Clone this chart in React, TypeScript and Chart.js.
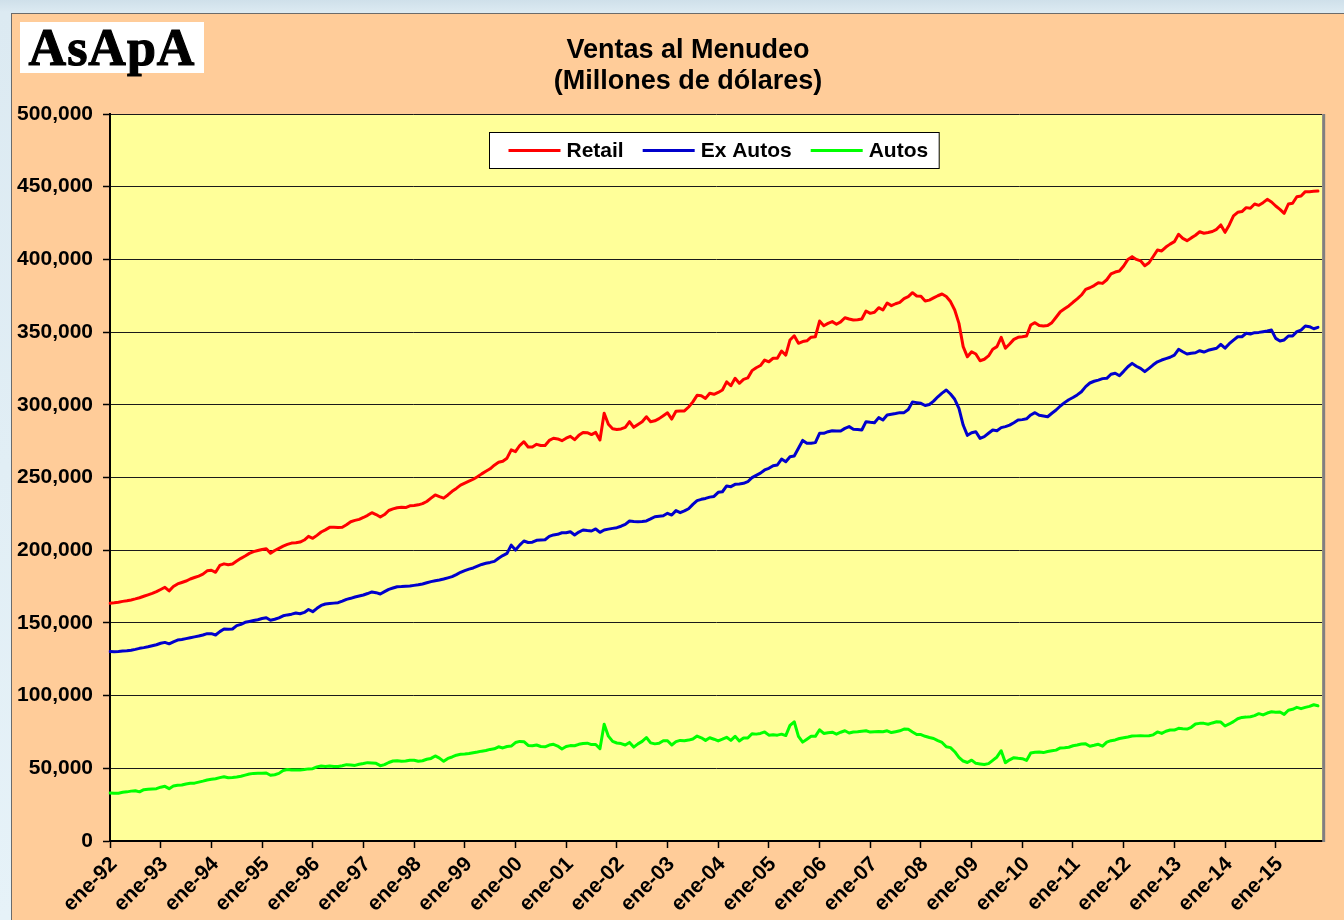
import React, { useEffect, useRef } from 'react';
import { Chart, registerables } from 'chart.js';

Chart.register(...registerables);

const MONTHS = ['ene', 'feb', 'mar', 'abr', 'may', 'jun', 'jul', 'ago', 'sep', 'oct', 'nov', 'dic'];
const YEARS = ['92', '93', '94', '95', '96', '97', '98', '99', '00', '01', '02', '03', '04', '05', '06', '07', '08', '09', '10', '11', '12', '13', '14', '15'];
const CATEGORIES = YEARS.flatMap((y) => MONTHS.map((m) => `${m}-${y}`));
const Y_TICKS = [0, 50000, 100000, 150000, 200000, 250000, 300000, 350000, 400000, 450000, 500000];

// Values in thousands of millions of dollars (one row per year, Jan..Dec)
const RETAIL = [
  [163.5, 163.8, 164.2, 164.8, 165.2, 165.8, 166.5, 167.3, 168.3, 169.3, 170.3, 171.5],
  [173.0, 174.5, 172.0, 175.0, 176.8, 177.8, 178.8, 180.2, 181.2, 182.2, 183.5, 185.8],
  [186.2, 184.8, 189.5, 190.6, 190.0, 190.5, 192.5, 194.4, 196.0, 197.8, 199.0, 199.8],
  [200.5, 201.0, 198.0, 199.8, 201.3, 202.8, 204.0, 204.9, 205.2, 205.6, 207.0, 209.5],
  [208.2, 210.2, 212.5, 214.0, 215.7, 215.8, 215.6, 215.8, 217.5, 219.6, 220.5, 221.2],
  [222.5, 224.0, 225.8, 224.5, 222.8, 224.5, 227.3, 228.4, 229.2, 229.6, 229.3, 230.5],
  [230.8, 231.2, 232.0, 233.5, 235.8, 238.0, 236.8, 235.8, 238.0, 240.5, 242.5, 244.8],
  [246.2, 247.5, 248.8, 250.5, 252.5, 254.3, 256.0, 258.5, 260.5, 261.2, 263.3, 269.0],
  [267.8, 272.0, 274.6, 271.0, 271.0, 272.8, 272.0, 272.0, 275.5, 277.0, 276.5, 275.3],
  [277.0, 278.3, 276.0, 279.0, 281.0, 280.8, 279.5, 281.0, 275.8, 294.2, 286.6, 283.5],
  [283.0, 283.4, 284.5, 288.4, 284.5, 286.5, 288.4, 291.8, 288.4, 289.0, 290.5, 292.5],
  [294.5, 290.2, 295.5, 295.7, 295.8, 298.5, 302.0, 306.5, 306.3, 304.4, 307.9, 307.2],
  [308.5, 310.2, 315.8, 313.1, 318.2, 314.8, 317.5, 318.5, 323.5, 325.5, 327.0, 330.8],
  [329.6, 332.0, 332.0, 337.0, 334.2, 344.6, 347.5, 342.3, 343.5, 344.0, 346.5, 346.8],
  [357.6, 354.4, 356.0, 357.2, 355.4, 357.0, 359.9, 359.0, 358.3, 358.5, 359.0, 364.5],
  [362.9, 363.6, 366.8, 365.2, 370.0, 368.2, 369.5, 370.4, 373.0, 374.4, 377.1, 374.8],
  [374.6, 371.4, 372.0, 373.5, 375.0, 376.2, 374.5, 371.0, 365.2, 356.0, 340.0, 333.0],
  [336.5, 334.9, 330.3, 331.3, 333.6, 338.2, 340.0, 346.4, 338.9, 341.8, 345.0, 346.4],
  [346.8, 347.3, 354.9, 356.5, 354.5, 354.2, 354.5, 356.5, 360.2, 364.0, 366.0, 368.0],
  [370.5, 372.8, 375.5, 379.4, 380.5, 382.0, 384.0, 383.5, 386.0, 390.0, 391.3, 392.0],
  [395.5, 400.0, 401.9, 400.0, 399.0, 395.7, 397.7, 402.0, 406.5, 405.8, 408.5, 410.5],
  [412.2, 417.3, 414.5, 412.9, 414.8, 416.6, 419.0, 418.0, 418.5, 419.2, 420.7, 423.7],
  [418.6, 423.7, 429.9, 432.4, 432.9, 435.6, 435.2, 438.1, 437.2, 439.0, 441.3, 439.5],
  [436.7, 434.4, 431.7, 438.1, 438.6, 443.1, 443.6, 446.6, 446.6, 446.8, 447.0],
];

const EX_AUTOS = [
  [130.3, 130.2, 130.3, 130.6, 130.8, 131.2, 131.8, 132.5, 133.0, 133.6, 134.3, 135.0],
  [136.0, 136.6, 135.6, 137.0, 138.2, 138.6, 139.2, 139.8, 140.4, 141.0, 141.7, 142.6],
  [142.6, 141.7, 144.0, 145.8, 145.6, 145.8, 148.1, 149.0, 150.4, 151.0, 151.6, 152.2],
  [153.0, 153.5, 151.8, 152.5, 153.5, 154.9, 155.5, 156.0, 156.8, 156.3, 157.2, 159.2],
  [157.7, 160.0, 162.0, 163.0, 163.3, 163.6, 163.9, 165.0, 166.2, 166.9, 167.8, 168.5],
  [169.2, 170.2, 171.3, 170.8, 169.9, 171.5, 173.1, 174.0, 174.9, 175.0, 175.2, 175.4],
  [175.8, 176.2, 176.8, 177.6, 178.4, 179.0, 179.5, 180.2, 181.0, 181.8, 183.2, 184.8],
  [186.0, 187.0, 187.8, 189.0, 190.2, 191.0, 191.6, 192.3, 194.5, 196.3, 197.8, 203.5],
  [200.1, 203.5, 206.3, 205.3, 205.5, 206.8, 207.0, 207.2, 209.5, 210.5, 210.9, 212.0],
  [212.0, 212.7, 210.5, 212.5, 213.9, 213.5, 213.2, 214.6, 212.3, 213.9, 214.5, 215.0],
  [215.5, 216.5, 217.8, 220.1, 219.8, 219.6, 219.8, 220.1, 221.5, 223.0, 223.4, 223.7],
  [225.4, 224.2, 227.2, 225.8, 227.0, 228.5, 231.5, 234.1, 235.0, 235.6, 236.5, 237.0],
  [239.8, 240.2, 244.2, 243.7, 245.3, 245.6, 246.0, 247.1, 249.9, 251.5, 253.0, 255.2],
  [256.3, 258.1, 258.6, 262.7, 260.9, 264.3, 264.8, 270.1, 275.5, 273.5, 273.5, 274.0],
  [280.4, 280.4, 281.5, 282.2, 282.0, 282.0, 283.8, 285.0, 283.2, 283.0, 282.7, 288.4],
  [288.0, 287.7, 291.2, 289.5, 293.0, 293.5, 294.0, 294.6, 294.6, 296.8, 302.0, 301.5],
  [301.0, 299.5, 300.2, 302.5, 305.5, 308.0, 310.2, 307.4, 303.8, 297.6, 286.1, 279.0],
  [280.8, 281.5, 276.9, 278.1, 280.4, 282.7, 282.2, 284.3, 285.0, 286.0, 287.7, 289.5],
  [289.8, 290.4, 293.0, 294.6, 292.8, 292.3, 291.8, 294.2, 296.4, 299.2, 301.5, 303.5],
  [305.0, 306.8, 309.0, 312.5, 315.0, 316.2, 317.0, 318.0, 318.2, 321.0, 321.7, 320.0],
  [323.0, 326.2, 328.5, 326.5, 325.1, 322.8, 325.1, 327.5, 329.6, 330.8, 331.8, 332.7],
  [334.2, 338.2, 336.5, 334.9, 335.5, 335.8, 337.2, 336.3, 337.5, 338.2, 338.9, 341.6],
  [339.0, 342.0, 344.5, 346.8, 346.8, 349.2, 348.7, 349.6, 349.8, 350.3, 350.8, 351.4],
  [345.7, 343.9, 344.6, 347.3, 347.3, 350.3, 351.4, 354.2, 353.7, 352.3, 353.3],
];

const AUTOS = [
  [33.0, 32.8, 32.9, 33.5, 33.8, 34.3, 34.6, 33.8, 35.3, 35.6, 35.8, 36.0],
  [37.0, 37.6, 36.0, 37.8, 38.4, 38.5, 39.2, 39.7, 39.8, 40.5, 41.2, 42.0],
  [42.4, 42.8, 43.6, 44.2, 43.5, 43.6, 44.0, 44.5, 45.3, 46.1, 46.5, 46.6],
  [46.6, 46.8, 45.2, 45.6, 46.5, 48.5, 49.2, 48.8, 48.8, 48.9, 49.2, 49.6],
  [49.7, 51.0, 51.6, 51.2, 51.6, 51.2, 51.3, 51.8, 52.5, 52.3, 52.0, 52.8],
  [53.3, 53.9, 53.7, 53.4, 51.8, 52.5, 54.0, 55.0, 55.2, 54.8, 55.0, 55.6],
  [55.5, 54.8, 55.2, 56.2, 56.8, 58.5, 57.0, 54.8, 56.8, 57.8, 59.0, 59.6],
  [59.8, 60.2, 60.7, 61.2, 61.8, 62.2, 63.0, 63.4, 64.8, 64.0, 65.0, 65.3],
  [67.7, 68.5, 68.3, 65.7, 65.5, 66.0, 65.0, 64.8, 66.0, 66.5, 65.3, 63.3],
  [65.0, 65.6, 65.5, 66.5, 67.1, 67.3, 66.3, 66.4, 63.5, 80.3, 72.1, 68.5],
  [67.4, 67.0, 66.0, 67.8, 64.6, 66.8, 68.5, 71.2, 67.5, 66.8, 67.2, 69.0],
  [69.0, 66.0, 68.3, 69.2, 69.0, 69.4, 70.2, 72.2, 71.0, 69.2, 71.0, 70.0],
  [68.8, 70.0, 71.3, 69.2, 72.0, 68.8, 70.8, 70.8, 73.8, 73.5, 74.0, 75.0],
  [72.8, 73.0, 72.8, 73.5, 72.5, 79.5, 82.0, 72.0, 68.0, 70.0, 72.0, 72.0],
  [76.5, 74.0, 74.5, 74.8, 73.5, 74.8, 75.8, 74.3, 75.0, 75.2, 75.5, 75.8],
  [74.9, 75.2, 75.3, 75.2, 75.8, 74.6, 75.2, 75.8, 77.0, 76.8, 75.0, 73.3],
  [73.2, 72.0, 71.2, 70.5, 69.0, 67.8, 64.8, 64.2, 61.4, 57.5, 55.0, 54.0],
  [55.6, 53.4, 53.0, 52.6, 53.2, 55.5, 57.8, 62.1, 53.9, 55.8, 57.3, 56.9],
  [56.6, 55.4, 60.5, 61.0, 61.2, 60.8, 61.5, 62.0, 62.5, 64.0, 64.2, 64.5],
  [65.5, 66.0, 66.7, 66.8, 65.2, 65.8, 66.5, 65.2, 68.0, 69.0, 69.5, 70.5],
  [71.0, 71.5, 72.2, 72.3, 72.4, 72.3, 72.4, 73.0, 75.0, 74.0, 75.5, 76.3],
  [76.3, 77.5, 77.2, 77.0, 78.2, 80.5, 80.9, 80.9, 80.3, 81.2, 82.0, 81.8],
  [79.1, 80.5, 82.1, 84.1, 85.0, 85.2, 85.5, 86.2, 87.6, 86.7, 88.0, 88.9],
  [88.5, 88.7, 87.1, 89.9, 90.6, 91.9, 91.0, 91.9, 92.6, 93.7, 93.0],
];

const SERIES_LABELS = ['Retail', 'Ex Autos', 'Autos'];
const SERIES_COLORS = ['#FF0000', '#0000CC', '#00FF00'];
const TITLE_LINES = ['Ventas al Menudeo', '(Millones de dólares)'];

const FONT_FAMILY = "'Liberation Sans', Arial, Helvetica, sans-serif";

const W = 1344;
const H = 920;
const PLOT_LEFT = 110;
const PLOT_TOP = 114;
const PLOT_RIGHT = 1325;
const PLOT_BOTTOM = 841;

const decorPlugin = {
  id: 'decor',
  beforeDraw(chart: any) {
    const { ctx, chartArea } = chart;
    ctx.save();
    ctx.fillStyle = '#FFFF99';
    ctx.fillRect(chartArea.left, chartArea.top, chartArea.right - chartArea.left, chartArea.bottom - chartArea.top);
    ctx.restore();
  },
  afterDraw(chart: any) {
    const { ctx, chartArea } = chart;
    ctx.save();
    // right border of plot
    ctx.strokeStyle = '#808080';
    ctx.lineWidth = 3;
    ctx.beginPath();
    ctx.moveTo(chartArea.right + 1.5, chartArea.top);
    ctx.lineTo(chartArea.right + 1.5, chartArea.bottom + 1);
    ctx.stroke();

    // title
    ctx.fillStyle = '#000';
    ctx.font = `bold 27px ${FONT_FAMILY}`;
    ctx.textAlign = 'center';
    ctx.textBaseline = 'middle';
    ctx.fillText(TITLE_LINES[0], 688, 51);
    ctx.fillText(TITLE_LINES[1], 688, 82);

    // legend
    const datasets = chart.data.datasets;
    ctx.font = `bold 21px ${FONT_FAMILY}`;
    const lineLen = 52;
    const gapLT = 6;
    const gapItems = 19;
    const padL = 19;
    const padR = 11;
    const widths = datasets.map((d: any) => ctx.measureText(d.label).width);
    let total = padL + padR;
    widths.forEach((w: number, i: number) => {
      total += lineLen + gapLT + w + (i < widths.length - 1 ? gapItems : 0);
    });
    const boxTop = 132;
    const boxH = 36;
    const cx = (chartArea.left + chartArea.right) / 2 - 2;
    const boxLeft = Math.round(cx - total / 2) + 0.5;
    ctx.fillStyle = '#FFFFFF';
    ctx.fillRect(boxLeft, boxTop + 0.5, total, boxH);
    ctx.strokeStyle = '#000';
    ctx.lineWidth = 1;
    ctx.strokeRect(boxLeft, boxTop + 0.5, total, boxH);
    let x = boxLeft + padL;
    const yMid = boxTop + boxH / 2 + 0.5;
    datasets.forEach((d: any, i: number) => {
      ctx.strokeStyle = d.borderColor;
      ctx.lineWidth = 3;
      ctx.beginPath();
      ctx.moveTo(x, yMid);
      ctx.lineTo(x + lineLen, yMid);
      ctx.stroke();
      x += lineLen + gapLT;
      ctx.fillStyle = '#000';
      ctx.textAlign = 'left';
      ctx.textBaseline = 'middle';
      ctx.fillText(d.label, x, yMid + 1);
      x += widths[i] + gapItems;
    });
    ctx.restore();
  },
};

export default function App() {
  const canvasRef = useRef<HTMLCanvasElement | null>(null);

  useEffect(() => {
    const canvas = canvasRef.current;
    if (!canvas) return;
    const series = [RETAIL, EX_AUTOS, AUTOS];
    const chart = new Chart(canvas, {
      type: 'line',
      data: {
        labels: CATEGORIES,
        datasets: series.map((rows, i) => ({
          label: SERIES_LABELS[i],
          data: rows.flat().map((v) => v * 1000),
          borderColor: SERIES_COLORS[i],
          backgroundColor: SERIES_COLORS[i],
          borderWidth: 3,
          pointRadius: 0,
          pointHoverRadius: 0,
          tension: 0,
          fill: false,
          borderJoinStyle: 'round' as const,
          borderCapStyle: 'round' as const,
        })),
      },
      options: {
        animation: false,
        responsive: false,
        maintainAspectRatio: false,
        devicePixelRatio: 1,
        layout: { padding: { left: 0, top: PLOT_TOP, right: W - PLOT_RIGHT, bottom: 0 } },
        plugins: {
          legend: { display: false },
          title: { display: false },
          tooltip: { enabled: false },
        },
        scales: {
          x: {
            type: 'category',
            offset: false,
            grid: {
              display: true,
              drawOnChartArea: false,
              drawTicks: true,
              tickLength: 7,
              tickWidth: 1.5,
              tickColor: (ctx: any) => (ctx.index % 12 === 0 ? '#000' : 'rgba(0,0,0,0)'),
            },
            border: { display: true, color: '#000', width: 2 },
            ticks: {
              autoSkip: false,
              maxRotation: 45,
              minRotation: 45,
              padding: 4,
              labelOffset: 4,
              color: '#000',
              font: { family: FONT_FAMILY, size: 21, weight: 'bold' },
              callback: (_v: any, i: number) => (i % 12 === 0 ? CATEGORIES[i] : ''),
            },
            afterFit: (s: any) => {
              s.height = H - PLOT_BOTTOM;
            },
          },
          y: {
            min: 0,
            max: 500000,
            afterBuildTicks: (s: any) => {
              s.ticks = Y_TICKS.map((v) => ({ value: v }));
            },
            grid: {
              color: '#1a1a1a',
              lineWidth: 1,
              drawTicks: true,
              tickLength: 7,
              tickColor: '#000',
              tickWidth: 1.5,
            },
            border: { display: true, color: '#000', width: 2 },
            ticks: {
              padding: 10,
              color: '#000',
              font: { family: FONT_FAMILY, size: 21, weight: 'bold' },
              callback: (v: any) => Number(v).toLocaleString('en-US'),
            },
            afterFit: (s: any) => {
              s.width = PLOT_LEFT;
            },
          },
        },
      },
      plugins: [decorPlugin],
    } as any);
    return () => chart.destroy();
  }, []);

  return (
    <div
      style={{
        position: 'fixed',
        left: 0,
        top: 0,
        width: W,
        height: H,
        overflow: 'hidden',
        background: 'linear-gradient(to bottom, #CFE0EA 0px, #DCEAF2 12px, #E6F2F8 100%)',
      }}
    >
      <div
        style={{
          position: 'absolute',
          left: 11,
          top: 13,
          width: W - 11,
          height: H - 13,
          background: '#FFCC99',
          borderTop: '1px solid #6b6b6b',
          borderLeft: '1px solid #6b6b6b',
          boxSizing: 'border-box',
        }}
      />
      <div
        style={{
          position: 'absolute',
          left: 20,
          top: 22,
          width: 184,
          height: 51,
          background: '#FFFFFF',
          display: 'flex',
          alignItems: 'center',
          justifyContent: 'center',
          fontFamily: "'Liberation Serif', 'Times New Roman', serif",
          fontWeight: 'bold',
          fontSize: 52,
          lineHeight: '51px',
          color: '#000',
          WebkitTextStroke: '1.2px #000',
          letterSpacing: 1,
        }}
      >
        AsApA
      </div>
      <canvas
        ref={canvasRef}
        width={W}
        height={H}
        style={{ position: 'absolute', left: 0, top: 0, width: W, height: H }}
      />
    </div>
  );
}
